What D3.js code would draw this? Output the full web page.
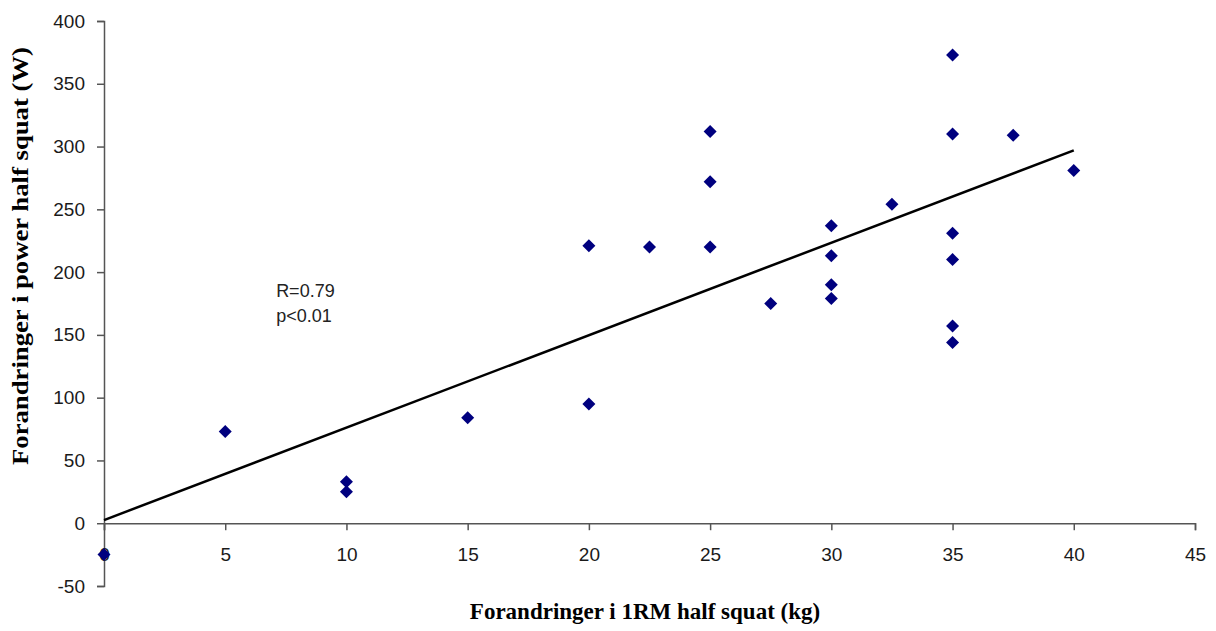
<!DOCTYPE html>
<html lang="en">
<head>
    <meta charset="UTF-8">
    <title>1RM vs power half squat</title>
    <script src="https://d3js.org/d3.v7.min.js"></script>
    <style>
        body { margin: 0; background: #fff; }
        .tick text { font-family: "Liberation Sans", Arial, sans-serif; font-size: 19px; fill: #1a1a1a; }
        .axis-title { font-family: "Liberation Serif", "Times New Roman", serif; font-size: 23px; font-weight: bold; fill: #000; }
        .note { font-family: "Liberation Sans", Arial, sans-serif; font-size: 18px; fill: #222; }
    </style>
</head>
<body>
    <div id="chart"></div>
    <script>
        // change in 1RM (kg) and change in power (W), one entry per subject
        const xValues = [0, 5, 10, 10, 15, 20, 20, 22.5, 25, 25, 25, 27.5, 30, 30, 30, 30, 32.5, 35, 35, 35, 35, 35, 35, 37.5, 40];
        const yValues = [-25, 73, 33, 25, 84, 221, 95, 220, 312, 272, 220, 175, 237, 213, 190, 179, 254, 373, 310, 231, 210, 157, 144, 309, 281];

        // regression line end points
        const trendX = [0, 40];
        const trendY = [2.5, 297];

        const xTicks = [0, 5, 10, 15, 20, 25, 30, 35, 40, 45];
        const yTicks = [-50, 0, 50, 100, 150, 200, 250, 300, 350, 400];
        const noteLines = ['R=0.79', 'p<0.01'];

        const width = 1216, height = 631;

        const svg = d3.select('#chart').append('svg')
            .attr('width', width)
            .attr('height', height);

        const x = d3.scaleLinear().domain([0, 45]).range([104, 1195]);
        const y = d3.scaleLinear().domain([-50, 400]).range([586, 21]);

        // y axis at x = 0
        const yAxis = svg.append('g')
            .attr('transform', `translate(${x(0)},0)`)
            .call(d3.axisLeft(y).tickValues(yTicks).tickSize(7).tickPadding(12).tickFormat(d => String(d)));
        yAxis.select('.domain').attr('stroke', '#555').attr('stroke-width', 1.5);
        yAxis.selectAll('.tick line').attr('stroke', '#555').attr('stroke-width', 1.5);

        // x axis at y = 0, labels pushed below the plot
        const xAxis = svg.append('g')
            .attr('transform', `translate(0,${y(0)})`)
            .call(d3.axisBottom(x).tickValues(xTicks).tickSize(7).tickPadding(17).tickSizeOuter(7));
        xAxis.select('.domain').attr('stroke', '#555').attr('stroke-width', 1.5);
        xAxis.selectAll('.tick line').attr('stroke', '#555').attr('stroke-width', 1.5);

        // regression line
        const line = d3.line().x(d => x(d[0])).y(d => y(d[1]));
        svg.append('path')
            .datum(d3.zip(trendX, trendY))
            .attr('d', line)
            .attr('fill', 'none')
            .attr('stroke', '#000')
            .attr('stroke-width', 2.5);

        // diamond markers
        const r = 6.5;
        svg.selectAll('.pt')
            .data(d3.zip(xValues, yValues))
            .enter().append('path')
            .attr('class', 'pt')
            .attr('transform', d => `translate(${x(d[0])},${y(d[1])})`)
            .attr('d', `M0,${-r}L${r},0L0,${r}L${-r},0Z`)
            .attr('fill', '#00007f');

        // R and p annotation
        svg.selectAll('.note')
            .data(noteLines)
            .enter().append('text')
            .attr('class', 'note')
            .attr('x', x(7.1))
            .attr('y', (d, i) => y(180) + i * 25)
            .text(d => d);

        // axis titles
        svg.append('text')
            .attr('class', 'axis-title')
            .attr('x', 645)
            .attr('y', 619)
            .attr('text-anchor', 'middle')
            .text('Forandringer i 1RM half squat (kg)');

        svg.append('text')
            .attr('class', 'axis-title')
            .attr('transform', 'translate(28,256) rotate(-90)')
            .attr('text-anchor', 'middle')
            .attr('textLength', 418)
            .attr('lengthAdjust', 'spacingAndGlyphs')
            .text('Forandringer i power half squat (W)');
    </script>
</body>
</html>
